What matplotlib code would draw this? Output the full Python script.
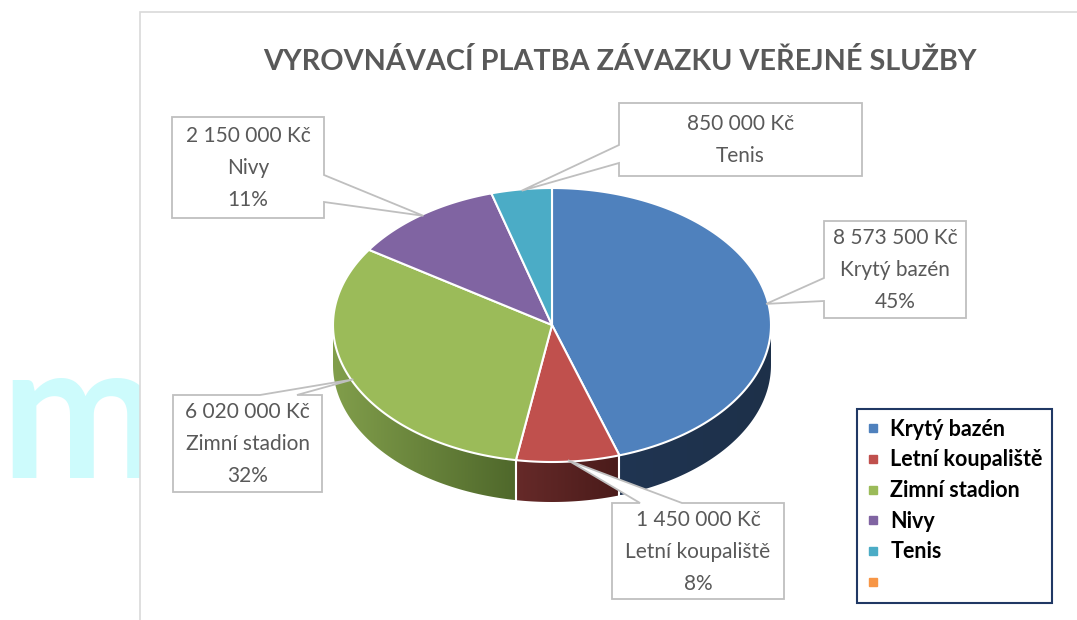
import numpy as np
import matplotlib.pyplot as plt
from matplotlib.patches import Polygon, Rectangle
from matplotlib.lines import Line2D
from matplotlib.colors import to_rgb

plt.rcParams['font.family'] = ['Lato', 'DejaVu Sans']

# data
names = ["Krytý bazén", "Letní koupaliště", "Zimní stadion", "Nivy", "Tenis"]
values = [8573500, 1450000, 6020000, 2150000, 850000]
show_pct = [True, True, True, True, False]
top_colors = ["#4f81bd", "#c0504d", "#9bbb59", "#8064a2", "#4bacc6"]
# side wall colours (left, right) for the front-facing slices
side_colors = [("#203552", "#1d3049"), ("#662a29", "#4a1b1a"),
               ("#819e4b", "#4f682b"), ("#5a4776", "#5a4776"),
               ("#357a8c", "#357a8c")]
extra_name = ""
extra_color = "#f79646"
title = "VYROVNÁVACÍ PLATBA ZÁVAZKU VEŘEJNÉ SLUŽBY"

# label boxes: (x0, y0, x1, y1), side of pointer, pointer base
boxes = [((824, 221, 966, 318), "left", (278, 301)),
         ((612, 503, 784, 599), "top", (640, 682)),
         ((173, 395, 322, 492), "top", (260, 297)),
         ((172, 117, 324, 218), "right", (175, 202)),
         ((619, 103, 862, 176), "left", (145, 163))]

W, H = 1077, 620
fig = plt.figure(figsize=(W / 100, H / 100), dpi=100)
ax = fig.add_axes([0, 0, 1, 1])
ax.set_xlim(0, W)
ax.set_ylim(H, 0)
ax.axis("off")

# faint watermark, cut off by the chart area
clip = Rectangle((0, 0), 140, H, transform=ax.transData)
wm = ax.text(0, 478, "m", fontsize=138, fontweight="bold", color="#cdfbfc",
             ha="left", va="baseline", zorder=0)
wm.set_clip_path(clip)
ax.add_patch(Rectangle((140, 12), 1000, 700, facecolor="white",
                       edgecolor="#d9d9d9", lw=1.2, zorder=1))

ax.text(620, 61, title, ha="center", va="center", fontsize=20.7,
        fontweight="bold", color="#595959", zorder=5)

cx, cy, rx, ry, depth = 552, 325, 219, 137, 40


def pt(theta, dy=0.0, scale=1.0):
    t = np.radians(theta)
    return cx + scale * rx * np.sin(t), cy - scale * ry * np.cos(t) + dy


vals = np.array(values, dtype=float)
frac = vals / vals.sum()
edges = np.concatenate([[0], np.cumsum(frac) * 360])

# side walls
for i in range(len(values)):
    s0, s1 = max(edges[i], 90), min(edges[i + 1], 270)
    if s0 >= s1:
        continue
    th = np.linspace(s0, s1, 80)
    xs, ys = pt(th)
    xb, yb = pt(th[::-1], depth)
    verts = np.column_stack([np.concatenate([xs, xb]), np.concatenate([ys, yb])])
    poly = Polygon(verts, closed=True, facecolor="none", edgecolor="none", zorder=2)
    ax.add_patch(poly)
    x0, x1 = verts[:, 0].min(), verts[:, 0].max()
    y0, y1 = verts[:, 1].min(), verts[:, 1].max()
    cl, cr = np.array(to_rgb(side_colors[i][0])), np.array(to_rgb(side_colors[i][1]))
    g = np.linspace(0, 1, 200)[:, None]
    grad = (cl * (1 - g) + cr * g)[None, :, :]
    im = ax.imshow(grad, extent=(x0, x1, y1, y0), aspect="auto", zorder=2,
                   interpolation="bilinear")
    im.set_clip_path(poly)

for a in edges[1:-1]:
    if 90 < a < 270:
        xa, ya = pt(a)
        xb_, yb_ = pt(a, depth)
        ax.plot([xa, xb_], [ya, yb_], color="white", lw=1.5, zorder=3)

# top face
for i in range(len(values)):
    th = np.linspace(edges[i], edges[i + 1], 120)
    xs, ys = pt(th)
    verts = np.column_stack([np.concatenate([[cx], xs]), np.concatenate([[cy], ys])])
    ax.add_patch(Polygon(verts, closed=True, facecolor=top_colors[i],
                         edgecolor="white", lw=1.5, joinstyle="round", zorder=4))


def fmt(v):
    return f"{v:,}".replace(",", " ") + " Kč"


# callouts
for i, ((x0, y0, x1, y1), side, (b1, b2)) in enumerate(boxes):
    mid = (edges[i] + edges[i + 1]) / 2
    tip = pt(mid, scale=0.99)
    if side == "left":
        verts = [(x0, y0), (x1, y0), (x1, y1), (x0, y1), (x0, b2), tip, (x0, b1)]
    elif side == "right":
        verts = [(x0, y0), (x1, y0), (x1, b1), tip, (x1, b2), (x1, y1), (x0, y1)]
    else:
        verts = [(x0, y0), (b1, y0), tip, (b2, y0), (x1, y0), (x1, y1), (x0, y1)]
    ax.add_patch(Polygon(verts, closed=True, facecolor="white",
                         edgecolor="#bfbfbf", lw=1.3, zorder=6))
    lines = [fmt(values[i]), names[i]]
    if show_pct[i]:
        lines.append(f"{frac[i] * 100:.0f}%")
    ax.text((x0 + x1) / 2, (y0 + y1) / 2 + 1, "\n".join(lines), ha="center",
            va="center", fontsize=15, color="#595959", linespacing=1.75, zorder=7)

# legend
handles = [Line2D([], [], marker="s", ls="none", markersize=6,
                  markerfacecolor=c, markeredgecolor=c)
           for c in top_colors + [extra_color]]
leg = ax.legend(handles, names + [extra_name], loc="upper left",
                bbox_to_anchor=(857 / W, 1 - 409 / H), bbox_transform=fig.transFigure,
                frameon=True, fancybox=False, edgecolor="#203864", framealpha=1,
                prop={"weight": "bold", "size": 15.5}, handlelength=0.55,
                handletextpad=0.55, labelspacing=0.45, borderpad=0.45,
                borderaxespad=0)
leg.get_frame().set_linewidth(1.5)
leg.set_zorder(8)
for t in leg.get_texts():
    t.set_color("black")

fig.savefig("out.png", dpi=100)
